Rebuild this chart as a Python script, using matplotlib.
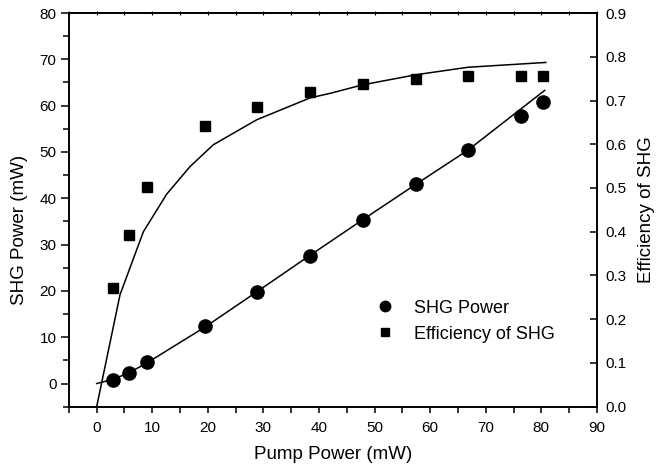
import numpy as np
import matplotlib
matplotlib.use("Agg")
import matplotlib.pyplot as plt
from matplotlib.lines import Line2D

plt.rcParams['font.family'] = ['Liberation Sans', 'DejaVu Sans']

# measured points
pump = [2.9, 5.8, 9.1, 19.4, 28.9, 38.4, 47.9, 57.5, 66.8, 76.3, 80.3]
shg_power = [0.8, 2.3, 4.6, 12.5, 19.8, 27.6, 35.4, 43.0, 50.4, 57.7, 60.7]
efficiency = [0.271, 0.393, 0.502, 0.642, 0.686, 0.720, 0.738, 0.749, 0.757, 0.757, 0.757]

# fitted curves
fit_pump_shg = [0, 2.9, 5.8, 9.1, 19.5, 28.8, 38.4, 47.9, 57.4, 66.8, 80.6]
fit_shg = [0, 0.9, 2.3, 4.5, 12.2, 19.8, 27.7, 35.4, 43.0, 50.4, 63.3]
fit_pump_eff = [0, 4.2, 8.4, 12.6, 16.8, 21.0, 28.8, 38.4, 42.2, 47.9, 57.5, 66.8, 80.8]
fit_eff = [0, 0.256, 0.400, 0.486, 0.549, 0.599, 0.656, 0.706, 0.717, 0.736, 0.759, 0.776, 0.787]

fig = plt.figure(figsize=(6.56, 4.70), dpi=100)
ax = fig.add_axes([0.105, 0.1347, 0.805, 0.8376])
ax2 = ax.twinx()

ax.plot(fit_pump_shg, fit_shg, color='black', lw=1.1)
ax.plot(pump, shg_power, 'o', color='black', ms=9.5, ls='none')
ax2.plot(fit_pump_eff, fit_eff, color='black', lw=1.1)
ax2.plot(pump, efficiency, 's', color='black', ms=6.8, ls='none')

ax.set_xlim(-5, 90)
ax.set_ylim(-5, 80)
ax2.set_ylim(0, 0.9)

ax.set_xticks(np.arange(0, 91, 10))
ax.set_xticks(np.arange(-5, 91, 5), minor=True)
ax.set_yticks(np.arange(0, 81, 10))
ax.set_yticks(np.arange(-5, 81, 5), minor=True)
ax2.set_yticks(np.arange(0, 0.91, 0.1))
ax2.set_yticklabels([f"{v:.1f}" for v in np.arange(0, 0.91, 0.1)])

for s in list(ax.spines.values()) + list(ax2.spines.values()):
    s.set_linewidth(1.2)

ax.tick_params(axis='x', which='major', direction='out', length=4, width=1.1,
               labelsize=11, pad=6)
ax.tick_params(axis='x', which='minor', direction='out', length=4, width=1.1)
ax.tick_params(axis='y', which='major', direction='out', length=6, width=1.1,
               labelsize=11, pad=3)
ax.tick_params(axis='y', which='minor', direction='out', length=4, width=1.1)
ax2.tick_params(axis='y', which='major', direction='in', length=5, width=1.1,
                labelsize=11, pad=6)

top = ax.secondary_xaxis('top')
top.set_xticks(np.arange(-5, 91, 5))
top.tick_params(direction='inout', length=3, width=0.8, labeltop=False)
top.spines['top'].set_linewidth(1.2)

ax.set_xlabel("Pump Power (mW)", fontsize=13.5, labelpad=8)
ax.set_ylabel("SHG Power (mW)", fontsize=13.5)
ax.yaxis.set_label_coords(-0.078, 0.45)
ax2.set_ylabel("Efficiency of SHG", fontsize=13.5, labelpad=8)

handles = [
    Line2D([], [], marker='o', color='black', ls='none', ms=7.5),
    Line2D([], [], marker='s', color='black', ls='none', ms=6),
]
ax.legend(handles, ["SHG Power", "Efficiency of SHG"], frameon=False,
          fontsize=13, loc='center left', bbox_to_anchor=(0.547, 0.217),
          handlelength=1.2, handletextpad=1.0, labelspacing=0.5)

fig.savefig("out.png", dpi=100)
